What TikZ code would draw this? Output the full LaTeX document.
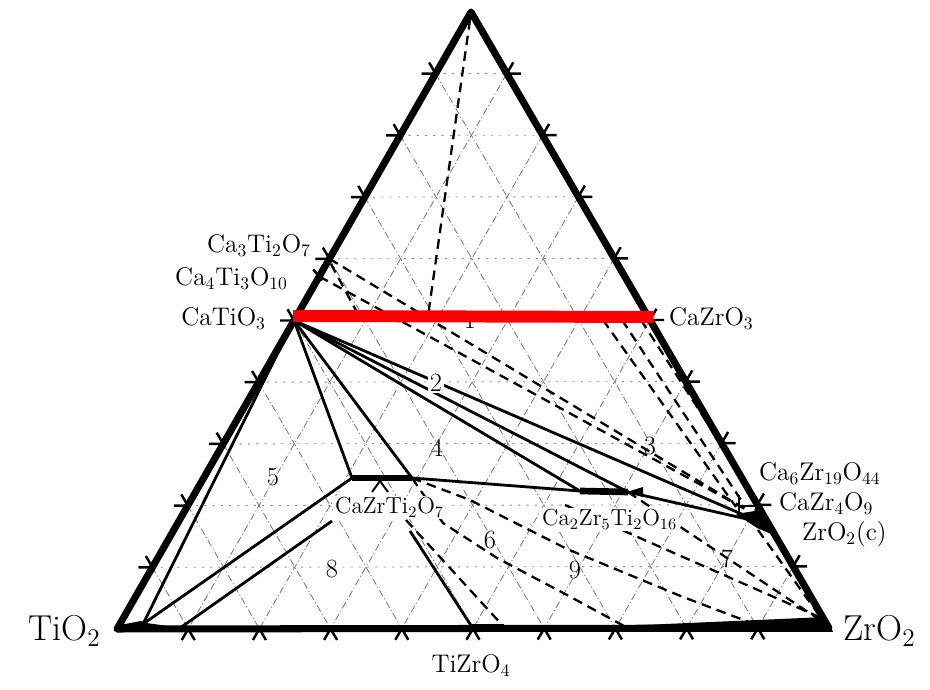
\documentclass[tikz,border=0pt]{standalone}
\usepackage{tikz}
\usetikzlibrary{calc}
\tikzset{
    phaseframe/.style={draw, line width=4pt, line join=round},
    phaseline/.style={draw, line width=1.6pt},
    phasebar/.style={draw, line width=3.8pt},
    tieline/.style={draw, line width=1.3pt, dash pattern=on 5.5pt off 3.5pt},
    gridline/.style={draw=black!55, line width=0.45pt, dash pattern=on 4pt off 1.5pt on 0.6pt off 1.5pt},
    gridrow/.style={draw=black!45, line width=0.5pt, dash pattern=on 1.2pt off 3.5pt},
    tickmark/.style={draw, line width=1.4pt},
    perovline/.style={draw=red, line width=6.8pt},
    compound/.style={font=\fontsize{14.5}{16}\selectfont, inner sep=1pt},
    smallcompound/.style={font=\fontsize{13.2}{15}\selectfont, inner sep=1pt, fill=white},
    oxide/.style={font=\fontsize{20.5}{23}\selectfont, inner sep=0pt},
    fieldno/.style={font=\fontsize{15}{17}\selectfont, inner sep=1pt}
}

\begin{document}
\begin{tikzpicture}[x=0.2mm, y=-0.2mm]
    \useasboundingbox (0,0) rectangle (930,690);

    \coordinate (A) at (471,12);
    \coordinate (L) at (117,629);
    \coordinate (R) at (829,628);
    \coordinate (cati) at ($(A)!0.5!(L)$);
    \coordinate (cazr) at ($(A)!0.5!(R)$);
    \coordinate (c3t2) at ($(A)!0.4!(L)$);
    \coordinate (c4t3) at ($(A)!3/7!(L)$);
    \coordinate (zrca) at (352,478);
    \coordinate (zrcb) at (412,478);
    \coordinate (cz5a) at (580,491);
    \coordinate (cz5b) at (628,492);
    \coordinate (czf) at (745,509);
    \coordinate (zrc) at (760,522);
    \coordinate (tiss) at (143,624);
    \coordinate (tzo) at (472,627);
    \coordinate (tzob) at (504,627);

    % ternary grid and ticks
    \foreach \k [evaluate=\k as \t using \k/10] in {1,...,9}{
        \draw[gridrow] ($(A)!\t!(L)$) -- ($(A)!\t!(R)$);
        \draw[gridline] ($(A)!\t!(L)$) -- ($(R)!\t!(L)$);
        \draw[gridline] ($(A)!\t!(R)$) -- ($(L)!\t!(R)$);
        \draw[tickmark] ($(A)!\t!(L)$) +(-14,0) -- +(0,0) -- +(-6.5,-11.2);
        \draw[tickmark] ($(A)!\t!(R)$) +(14,0) -- +(0,0) -- +(6.5,-11.2);
        \draw[tickmark] ($(L)!\t!(R)$) +(-6.5,11.2) -- +(0,0) -- +(6.5,11.2);
    }
    \draw[tickmark] (c4t3) +(-6,-7) -- +(3,4);

    % tie lines
    \draw[tieline] (470,20) -- (428,316);
    \draw[tieline] (c3t2) -- (czf);
    \draw[tieline] (c4t3) -- (czf);
    \draw[tieline] (331,264) -- (359,316);
    \draw[tieline] (603,320) -- (736,507);
    \draw[tieline] (622,320) -- (741,500);
    \draw[tieline] (641,320) -- (748,486);
    \draw[tieline] (406,520) -- (tzob);
    \draw[tieline] (zrcb) -- (443,523) -- (497,558) -- (567,595) -- (624,626);
    \draw[tieline] (zrcb) -- (470,500) -- (567,549) -- (683,597) -- (762,627);
    \draw[tieline] (565,505) -- (826,620);
    \draw[tieline] (cz5b) -- (826,624);
    \draw[tieline] (758,530) -- (824,622);

    % phase boundaries
    \draw[phaseline] (cati) -- (zrca);
    \draw[phaseline] (cati) -- (zrcb);
    \draw[phaseline] (cati) -- (cz5a);
    \draw[phaseline] (cati) -- (cz5b);
    \draw[phaseline] (cati) -- (zrc);
    \draw[phaseline] (tiss) -- (cati);
    \draw[phaseline] (tiss) -- (zrca);
    \draw[phaseline] (tiss) -- (180,629);
    \draw[phaseline] (180,628) -- (332,521);
    \draw[phaseline] (410,531) -- (tzo);
    \draw[phaseline] (zrcb) -- (cz5a);
    \draw[phaseline] (cz5b) -- (zrc);
    \draw[phasebar] (zrca) -- (zrcb);
    \draw[phasebar] (cz5a) -- (cz5b);
    \draw[phasebar] (L) -- (tiss);
    \draw[phasebar] (tzo) -- (tzob);
    \fill (627,492) -- (643,487) -- (643,497) -- cycle;
    \draw[line width=1.1pt] (372,492) -- (380,481) -- (388,492);
    \draw[line width=1.2pt] (739,506) rectangle (756,515);
    \draw[line width=1.2pt] (739,495) -- (739,506);
    \fill (736,514) -- (761,510) -- (771,534) -- (757,528) -- cycle;

    \draw[phaseframe] (L) -- (A) -- (R) -- cycle;
    \fill (620,626) -- (826,617) -- (833,632) -- (620,632) -- cycle;

    % labels
    \node[oxide, anchor=base east] (tio2) at (101,641) {TiO$_2$};
    \node[oxide, anchor=base west] (zro2) at (843,641) {ZrO$_2$};
    \node[compound, anchor=base] (tizro4) at (471,673) {TiZrO$_4$};
    \node[compound, anchor=base east] (catio3) at (268,326) {CaTiO$_3$};
    \node[compound, anchor=base west] (cazro3) at (667,326) {CaZrO$_3$};
    \node[compound, anchor=base east] (ca3ti2o7) at (313,253) {Ca$_3$Ti$_2$O$_7$};
    \node[compound, anchor=base east] (ca4ti3o10) at (290,286) {Ca$_4$Ti$_3$O$_{10}$};
    \node[compound, anchor=base west] (ca6zr19o44) at (757,481) {Ca$_6$Zr$_{19}$O$_{44}$};
    \node[compound, anchor=base west] (cazr4o9) at (777,511) {CaZr$_4$O$_9$};
    \node[compound, anchor=base west] (zro2c) at (800,541) {ZrO$_2$(c)};
    \node[smallcompound, anchor=base west] (cazrti2o7) at (333,514) {CaZrTi$_2$O$_7$};
    \node[smallcompound, anchor=base west] (ca2zr5ti2o16) at (540,526) {Ca$_2$Zr$_5$Ti$_2$O$_{16}$};

    \node[fieldno] (f1) at (470,320) {1};
    \node[fieldno, fill=white] (f2) at (436,383) {2};
    \node[fieldno] (f3) at (650,446) {3};
    \node[fieldno] (f4) at (437,448) {4};
    \node[fieldno] (f5) at (273,477) {5};
    \node[fieldno] (f6) at (490,540) {6};
    \node[fieldno] (f7) at (727,559) {7};
    \node[fieldno] (f8) at (332,569) {8};
    \node[fieldno] (f9) at (575,570) {9};

    \draw[perovline] (293,316) -- (653,317);
\end{tikzpicture}
\end{document}
